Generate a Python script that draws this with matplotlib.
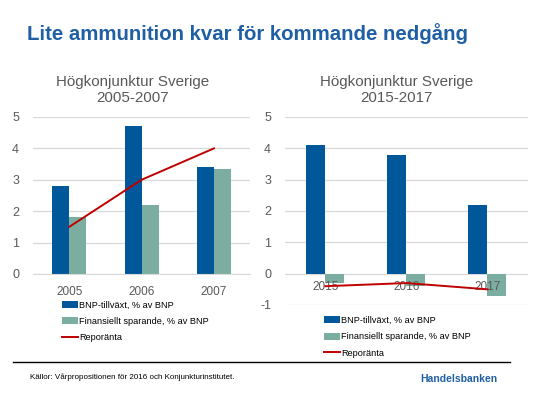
import matplotlib
matplotlib.use('Agg')
import matplotlib.pyplot as plt
import numpy as np
from matplotlib.lines import Line2D

plt.rcParams['font.family'] = ['Liberation Sans', 'DejaVu Sans']
plt.rcParams['axes.unicode_minus'] = False

# data
years_a = ['2005', '2006', '2007']
bnp_a = [2.8, 4.7, 3.4]
fin_a = [1.8, 2.2, 3.33]
repo_a = [1.5, 3.0, 4.0]

years_b = ['2015', '2016', '2017']
bnp_b = [4.1, 3.8, 2.2]
fin_b = [-0.3, -0.4, -0.7]
repo_b = [-0.4, -0.3, -0.5]

labels = ['BNP-tillväxt, % av BNP', 'Finansiellt sparande, % av BNP', 'Reporänta']

blue = '#00589A'
green = '#7BADA0'
red = '#C00000'
grey = '#595959'
grid = '#D9D9D9'

fig = plt.figure(figsize=(5.47, 3.94), dpi=100)

ax1 = fig.add_axes([0.0603, 0.3046, 0.397, 0.3985])
ax2 = fig.add_axes([0.521, 0.2259, 0.444, 0.4772])

w = 0.235


def draw(ax, years, bnp, fin, repo, ylim, title):
    x = np.arange(len(years))
    ax.bar(x - w / 2, bnp, w, color=blue, label=labels[0], zorder=2)
    ax.bar(x + w / 2, fin, w, color=green, label=labels[1], zorder=2)
    ax.plot(x, repo, color=red, lw=1.4, label=labels[2], zorder=3)
    ax.set_xlim(-0.5, len(years) - 0.5)
    ax.set_ylim(*ylim)
    ax.set_yticks(range(int(ylim[0]), int(ylim[1]) + 1))
    ax.grid(axis='y', color=grid, lw=0.9)
    ax.set_axisbelow(True)
    for s in ['top', 'right', 'left']:
        ax.spines[s].set_visible(False)
    ax.spines['bottom'].set_color(grid)
    ax.tick_params(axis='y', length=0, pad=10, labelsize=9, labelcolor=grey)
    ax.tick_params(axis='x', length=0, labelsize=8.5, labelcolor=grey)
    ax.set_title(title, fontsize=10.9, color=grey, pad=11, linespacing=1.15, x=0.46)
    return x


x1 = draw(ax1, years_a, bnp_a, fin_a, repo_a, (0, 5), 'Högkonjunktur Sverige\n2005-2007')
ax1.set_xticks(x1)
ax1.set_xticklabels(years_a)
ax1.tick_params(axis='x', pad=9)

x2 = draw(ax2, years_b, bnp_b, fin_b, repo_b, (-1, 5), 'Högkonjunktur Sverige\n2015-2017')
ax2.set_xticks([])
ax2.spines['bottom'].set_visible(False)
for xi, yr in zip(x2, years_b):
    ax2.annotate(yr, (xi, 0), xytext=(0, -5), textcoords='offset points',
                 ha='center', va='top', fontsize=8.5, color=grey, zorder=2.5)

leg_kw = dict(loc='upper left', frameon=False, fontsize=6.6, handlelength=1.8,
              handleheight=0.8, handletextpad=0.1, labelspacing=0.8, borderpad=0,
              borderaxespad=0)
h, l = ax1.get_legend_handles_labels()
order = [1, 2, 0]
h = [h[i] for i in order]
l = [l[i] for i in order]
fig.legend(h, l, bbox_to_anchor=(0.113, 0.237), **leg_kw)
fig.legend(h, l, bbox_to_anchor=(0.592, 0.198), **leg_kw)

fig.text(0.049, 0.915, 'Lite ammunition kvar för kommande nedgång', fontsize=14.7,
         fontweight='bold', color='#1F5FA5', va='center')

fig.add_artist(Line2D([0.024, 0.933], [0.081, 0.081], color='black', lw=1,
                      transform=fig.transFigure))
fig.text(0.055, 0.043, 'Källor: Vårpropositionen för 2016 och Konjunkturinstitutet.',
         fontsize=5.8, color='black', va='center')
fig.text(0.909, 0.038, 'Handelsbanken', fontsize=7.5, fontweight='bold',
         color='#1F5FA5', va='center', ha='right')

fig.savefig('out.png', dpi=100)
